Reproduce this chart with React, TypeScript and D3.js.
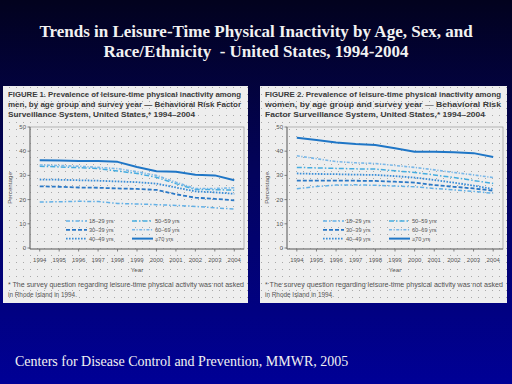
import React from "react";
import * as d3 from "d3";

const years = [1994, 1995, 1996, 1997, 1998, 1999, 2000, 2001, 2002, 2003, 2004];
const ageGroups = ["18–29 yrs", "30–39 yrs", "40–49 yrs", "50–59 yrs", "60–69 yrs", "≥70 yrs"];

const men18_29 = [19.0, 19.1, 19.3, 19.2, 18.4, 18.2, 17.9, 17.6, 17.2, 16.6, 16.1];
const men30_39 = [25.5, 25.3, 25.0, 24.9, 24.6, 24.4, 24.0, 22.2, 20.8, 20.3, 19.7];
const men40_49 = [28.3, 28.2, 28.0, 27.8, 27.5, 27.2, 26.6, 25.0, 23.4, 23.0, 22.4];
const men50_59 = [33.8, 33.5, 33.2, 32.8, 31.8, 30.8, 29.2, 26.6, 24.2, 24.1, 23.9];
const men60_69 = [34.3, 34.1, 33.8, 33.3, 32.8, 31.5, 30.0, 27.2, 24.6, 24.6, 24.9];
const men70 = [36.3, 36.2, 36.0, 35.9, 35.6, 33.5, 31.7, 31.5, 30.3, 30.0, 28.0];

const women18_29 = [24.5, 25.4, 26.0, 26.1, 25.9, 25.6, 25.3, 24.6, 24.0, 23.4, 22.6];
const women30_39 = [27.8, 27.8, 27.8, 27.8, 27.7, 27.4, 27.0, 26.0, 25.3, 24.6, 23.7];
const women40_49 = [30.8, 30.6, 30.5, 30.3, 30.2, 29.7, 29.1, 28.1, 27.0, 25.8, 24.4];
const women50_59 = [33.3, 33.1, 32.9, 32.7, 32.6, 31.9, 31.2, 30.2, 29.1, 27.9, 26.7];
const women60_69 = [38.1, 36.9, 35.7, 35.2, 34.9, 34.1, 33.3, 32.3, 31.2, 30.2, 29.1];
const women70 = [45.6, 44.6, 43.6, 43.0, 42.6, 41.2, 39.8, 39.8, 39.6, 39.2, 37.6];

const yTicks = [0, 10, 20, 30, 40, 50];

const titleLines = [
  "Trends in Leisure-Time Physical Inactivity by Age, Sex, and",
  "Race/Ethnicity  - United States, 1994-2004",
];
const fig1Caption = [
  "FIGURE 1. Prevalence of leisure-time physical inactivity among",
  "men, by age group and survey year — Behavioral Risk Factor",
  "Surveillance System, United States,* 1994–2004",
];
const fig2Caption = [
  "FIGURE 2. Prevalence of leisure-time physical inactivity among",
  "women, by age group and survey year — Behavioral Risk",
  "Factor Surveillance System, United States,* 1994–2004",
];
const footnote = [
  "* The survey question regarding leisure-time physical activity was not asked",
  "in Rhode Island in 1994.",
];
const sourceText = "Centers for Disease Control and Prevention, MMWR, 2005";

const styles = [
  { color: "#62b0e6", dash: "4,2,1.5,2", width: 1.5 },
  { color: "#2a78c6", dash: "4,2", width: 1.8 },
  { color: "#3a8ed8", dash: "1.6,1.4", width: 1.8 },
  { color: "#45ade0", dash: "5,2,1.5,2", width: 1.5 },
  { color: "#7ab8e8", dash: "3,1.5,1.2,1.5", width: 1.6 },
  { color: "#1f76c6", dash: "", width: 2 },
];

type PanelProps = {
  px: number; pw: number; caption: string[]; captionLens: number[];
  series: number[][];
};

function Panel({ px, pw, caption, captionLens, series }: PanelProps) {
  const left = px + 27;
  const right = px + pw - 4;
  const top = 127;
  const bottom = 248;
  const x = d3.scaleLinear().domain([1993.5, 2004.5]).range([left, right]);
  const y = d3.scaleLinear().domain([0, 50]).range([bottom, top]);
  const line = d3.line<number>().x((_, i) => x(years[i])).y((d) => y(d));
  const sans = "Liberation Sans, Arial, sans-serif";
  return (
    <g>
      <rect x={px} y={86} width={pw} height={217} fill="#eeeeee" />
      <rect x={px} y={86} width={pw} height={217} fill="url(#dots)" />
      {caption.map((t, i) => (
        <text key={i} x={px + 5} y={96.5 + i * 10.3} fontFamily={sans} fontWeight="bold"
          fontSize={7.6} fill="#3a3a3a" textLength={captionLens[i]} lengthAdjust="spacingAndGlyphs">{t}</text>
      ))}
      <rect x={left} y={top} width={right - left} height={bottom - top + 1} fill="none" stroke="#9a9a9a" strokeWidth={0.7} />
      <line x1={left} x2={left} y1={top} y2={bottom + 1} stroke="#666" strokeWidth={0.9} />
      <line x1={left} x2={right} y1={bottom + 1} y2={bottom + 1} stroke="#666" strokeWidth={0.9} />
      {yTicks.map((t) => (
        <g key={t}>
          <line x1={left - 2.5} x2={left} y1={y(t)} y2={y(t)} stroke="#666" strokeWidth={0.8} />
          <text x={left - 4} y={y(t) + 2} textAnchor="end" fontFamily={sans} fontSize={6} fill="#555">{t}</text>
        </g>
      ))}
      {years.map((yr) => (
        <g key={yr}>
          <line x1={x(yr)} x2={x(yr)} y1={bottom + 1} y2={bottom + 3.5} stroke="#666" strokeWidth={0.8} />
          <text x={x(yr)} y={262} textAnchor="middle" fontFamily={sans} fontSize={6} fill="#555">{yr}</text>
        </g>
      ))}
      <text x={(left + right) / 2} y={272} textAnchor="middle" fontFamily={sans} fontSize={6.2} fill="#555">Year</text>
      <text transform={`translate(${px + 9},188) rotate(-90)`} textAnchor="middle" fontFamily={sans} fontSize={6.2} fill="#555">Percentage</text>
      {series.map((s, i) => (
        <path key={i} d={line(s) || ""} fill="none" stroke={styles[i].color}
          strokeWidth={styles[i].width} strokeDasharray={styles[i].dash} strokeLinejoin="round" />
      ))}
      {ageGroups.map((g, i) => {
        const col = Math.floor(i / 3);
        const row = i % 3;
        const lx = left + 36 + col * 66;
        const ly = 221 + row * 8.8;
        return (
          <g key={g}>
            <line x1={lx} x2={lx + 21} y1={ly} y2={ly} stroke={styles[i].color}
              strokeWidth={styles[i].width} strokeDasharray={styles[i].dash} />
            <text x={lx + 23} y={ly + 2} fontFamily={sans} fontSize={5.6} fill="#555">{g}</text>
          </g>
        );
      })}
      {footnote.map((t, i) => (
        <text key={i} x={px + 5} y={287 + i * 9.5} fontFamily={sans} fontSize={6.4} fill="#555"
          textLength={i === 0 ? pw - 9 : undefined} lengthAdjust="spacingAndGlyphs">{t}</text>
      ))}
    </g>
  );
}

export default function App() {
  return (
    <svg width={512} height={384} style={{ position: "absolute", left: 0, top: 0 }}>
      <defs>
        <linearGradient id="bg" x1="0" y1="0" x2="0" y2="1">
          <stop offset="0" stopColor="#02021e" />
          <stop offset="0.45" stopColor="#03035c" />
          <stop offset="1" stopColor="#000096" />
        </linearGradient>
        <pattern id="dots" width="7" height="7" patternUnits="userSpaceOnUse">
          <rect x={2} y={3} width={1} height={1} fill="#a8a8a8" />
        </pattern>
      </defs>
      <rect width={512} height={384} fill="url(#bg)" />
      {titleLines.map((t, i) => (
        <text key={i} x={256} y={36.5 + i * 20.5} textAnchor="middle" fill="#f2f2f2" style={{ whiteSpace: "pre" }}
          fontFamily="Liberation Serif, Times New Roman, serif" fontWeight="bold" fontSize={17}>{t}</text>
      ))}
      <Panel px={3} pw={245} caption={fig1Caption} captionLens={[233, 233, 187]}
        series={[men18_29, men30_39, men40_49, men50_59, men60_69, men70]} />
      <Panel px={260} pw={247} caption={fig2Caption} captionLens={[236, 236, 220]}
        series={[women18_29, women30_39, women40_49, women50_59, women60_69, women70]} />
      <text x={15} y={366} fill="#f2f2f2" fontFamily="Liberation Serif, Times New Roman, serif" fontSize={14}>{sourceText}</text>
    </svg>
  );
}
